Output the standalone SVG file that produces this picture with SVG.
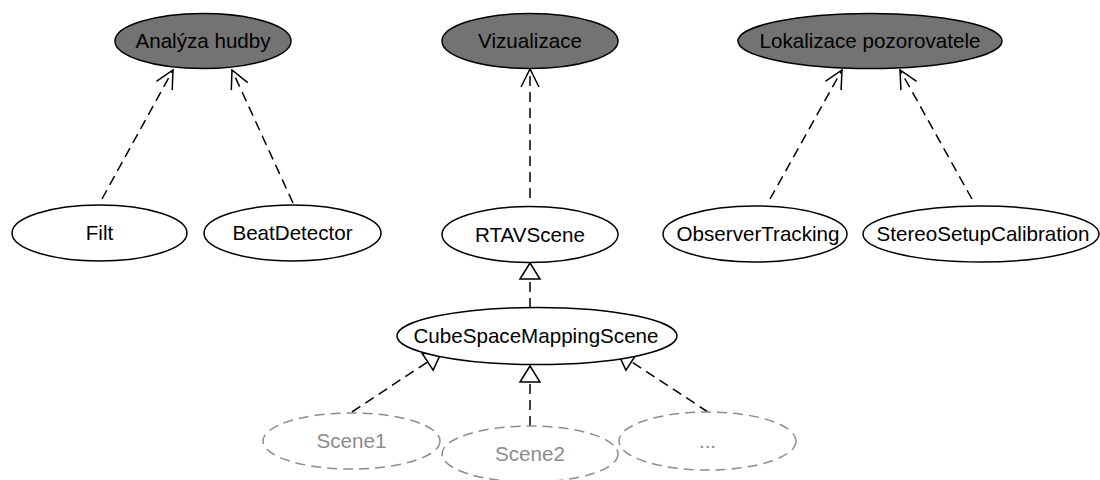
<svg xmlns="http://www.w3.org/2000/svg" width="1100" height="480" viewBox="0 0 1100 480">
<style>
.n ellipse{fill:#fff;stroke:#000;stroke-width:1.5}
.n.dark ellipse{fill:#737373}
.n.ghost ellipse{fill:#fff;stroke:#8c8c8c;stroke-dasharray:10,6}
.n text{font-family:"Liberation Sans",Arial,sans-serif;font-size:20.6px;text-anchor:middle;fill:#000}
.n.ghost text{fill:#8c8c8c}
.c line{stroke:#000;stroke-width:1.5;stroke-dasharray:10,6;fill:none}
</style>
<defs>
<marker id="open" markerUnits="userSpaceOnUse" markerWidth="24" markerHeight="24" viewBox="-20 -12 24 24" refX="0" refY="0" orient="auto" overflow="visible">
<path d="M-18,-9 L0,0 L-18,9" fill="none" stroke="#000" stroke-width="1.5" stroke-dasharray="none"/>
</marker>
<marker id="tri" markerUnits="userSpaceOnUse" markerWidth="24" markerHeight="24" viewBox="-20 -12 24 24" refX="0" refY="0" orient="auto" overflow="visible">
<path d="M-16,-10 L0,0 L-16,10 Z" fill="#fff" stroke="#000" stroke-width="1.5" stroke-dasharray="none"/>
</marker>
</defs>
<g id="connectors" class="c">
<line x1="102" y1="199" x2="173" y2="70" marker-end="url(#open)"/>
<line x1="293" y1="203" x2="232" y2="70" marker-end="url(#open)"/>
<line x1="530" y1="198" x2="530" y2="69" marker-end="url(#open)"/>
<line x1="770" y1="199" x2="842" y2="70" marker-end="url(#open)"/>
<line x1="972" y1="199" x2="900" y2="70" marker-end="url(#open)"/>
<line x1="530" y1="308" x2="530" y2="263" marker-end="url(#tri)"/>
<line x1="352" y1="412" x2="441" y2="353" marker-end="url(#tri)"/>
<line x1="530" y1="426" x2="530" y2="366" marker-end="url(#tri)"/>
<line x1="708" y1="412" x2="618" y2="353" marker-end="url(#tri)"/>
</g>
<g id="analyza" class="n dark"><ellipse cx="203" cy="41" rx="88" ry="27.5"/><text x="203" y="48">Analýza hudby</text></g>
<g id="vizualizace" class="n dark"><ellipse cx="530" cy="41" rx="88" ry="27.5"/><text x="530" y="48">Vizualizace</text></g>
<g id="lokalizace" class="n dark"><ellipse cx="870" cy="41" rx="132" ry="27.5"/><text x="870" y="48">Lokalizace pozorovatele</text></g>
<g id="filt" class="n"><ellipse cx="99.5" cy="233" rx="87.5" ry="28"/><text x="99.5" y="240">Filt</text></g>
<g id="beat" class="n"><ellipse cx="292.5" cy="233" rx="88.5" ry="28"/><text x="292.5" y="240">BeatDetector</text></g>
<g id="rtav" class="n"><ellipse cx="530" cy="234.5" rx="88" ry="28"/><text x="530" y="241.5">RTAVScene</text></g>
<g id="observer" class="n"><ellipse cx="755" cy="234" rx="92" ry="28"/><text x="758" y="241">ObserverTracking</text></g>
<g id="stereo" class="n"><ellipse cx="981" cy="234" rx="118" ry="28"/><text x="983" y="241">StereoSetupCalibration</text></g>
<g id="cube" class="n"><ellipse cx="537" cy="336" rx="140" ry="28.5"/><text x="536" y="343">CubeSpaceMappingScene</text></g>
<g id="scene1" class="n ghost"><ellipse cx="351.5" cy="441" rx="88.5" ry="28"/><text x="351.5" y="448">Scene1</text></g>
<g id="scene2" class="n ghost"><ellipse cx="530" cy="454" rx="88" ry="28"/><text x="530" y="461">Scene2</text></g>
<g id="more" class="n ghost"><ellipse cx="707.5" cy="441" rx="88.5" ry="29"/><text x="707.5" y="448">...</text></g>
</svg>
